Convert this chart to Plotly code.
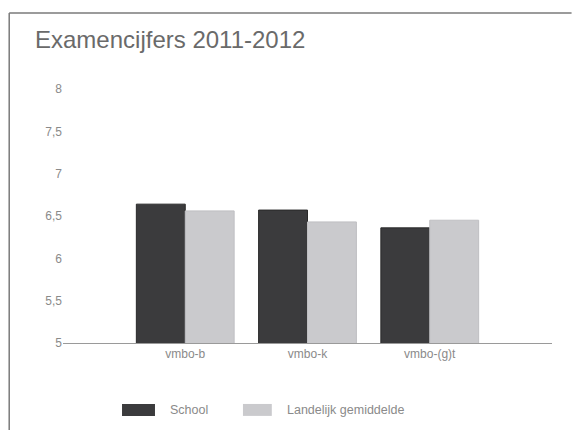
import plotly.graph_objects as go

# Examencijfers 2011-2012 - school vs landelijk gemiddelde
CATEGORIES = ["vmbo-b", "vmbo-k", "vmbo-(g)t"]
SCHOOL = [6.64, 6.57, 6.36]
LANDELIJK = [6.56, 6.43, 6.45]
Y_TICKS = [5, 5.5, 6, 6.5, 7, 7.5, 8]

COLORS = {"school": "#3b3b3d", "landelijk": "#cacacd"}
FONT = "Arial, Liberation Sans, sans-serif"

fig = go.Figure(data=[
    go.Bar(name="School", x=CATEGORIES, y=SCHOOL,
           marker=dict(color=COLORS["school"], line=dict(color="#2a2a2a", width=1))),
    go.Bar(name="Landelijk gemiddelde", x=CATEGORIES, y=LANDELIJK,
           marker=dict(color=COLORS["landelijk"], line=dict(color="#bfbfc2", width=1))),
])

# the page body has an 8px margin: keep the figure inside the window (no scrollbars)
W, H = 566, 422
fig.update_layout(
    width=W, height=H,
    margin=dict(l=55, r=22, t=81, b=87),
    barmode="group", bargap=0.2, bargroupgap=0,
    separators=",.",
    paper_bgcolor="white", plot_bgcolor="white",
    font=dict(family=FONT, color="#8a8a8a", size=12),
    title=dict(text="Examencijfers 2011-2012", x=27 / W, xanchor="left",
               y=1 - 32 / H, yanchor="middle",
               font=dict(family=FONT, size=24, color="#6a6a6a")),
    showlegend=False,
)
fig.update_xaxes(range=[-1, 3], showline=True, linecolor="#9a9a9a", linewidth=1,
                 ticks="", showgrid=False, tickfont=dict(size=12, color="#8a8a8a"))
fig.update_yaxes(range=[5, 8], tickvals=Y_TICKS, showgrid=False, zeroline=False,
                 tickformat=".1~f", tickfont=dict(size=12, color="#8a8a8a"))

# scanned frame: only top and left edges are visible in the original
frame = dict(color="#7a7a7a", width=1.5)
fig.add_shape(type="line", xref="paper", yref="paper",
              x0=-0.11, x1=1.04, y0=1.299, y1=1.299, line=frame)
fig.add_shape(type="line", xref="paper", yref="paper",
              x0=-0.11, x1=-0.11, y0=-0.5, y1=1.299, line=frame)

# legend with wide swatches, as in the original
legend_items = [
    ("School", COLORS["school"], 0.1207, 0.1881, 0.2147),
    ("Landelijk gemiddelde", COLORS["landelijk"], 0.368, 0.427, 0.454),
]
for name, color, sx0, sx1, tx in legend_items:
    fig.add_shape(type="rect", xref="paper", yref="paper",
                  x0=sx0, x1=sx1, y0=-0.287, y1=-0.240,
                  fillcolor=color, line=dict(width=0))
    fig.add_annotation(text=name, xref="paper", yref="paper", x=tx, y=-0.264,
                       xanchor="left", yanchor="middle", showarrow=False,
                       font=dict(family=FONT, size=12.5, color="#8a8a8a"))

fig.write_html("out.html")
